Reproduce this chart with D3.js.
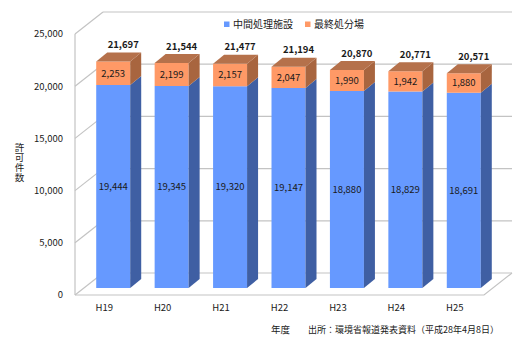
<!DOCTYPE html>
<html>
<head>
<meta charset="utf-8">
<script src="https://cdn.jsdelivr.net/npm/d3@7"></script>
<style>
  html, body { margin: 0; padding: 0; background: #fff; }
  svg { display: block; }
  text { font-family: "Noto Sans CJK JP", "Liberation Sans", sans-serif; fill: #1a1a1a; }
</style>
</head>
<body>
<svg id="chart" width="532" height="347"></svg>
<script>
// Permits by fiscal year (H19–H25)
const categories = ["H19", "H20", "H21", "H22", "H23", "H24", "H25"];
const intermediate = [19444, 19345, 19320, 19147, 18880, 18829, 18691]; // 中間処理施設
const landfill = [2253, 2199, 2157, 2047, 1990, 1942, 1880];            // 最終処分場
const totals = [21697, 21544, 21477, 21194, 20870, 20771, 20571];
const yTicks = [0, 5000, 10000, 15000, 20000, 25000];
const seriesNames = ["中間処理施設", "最終処分場"];

const svg = d3.select("#chart");
const fmt = d3.format(",");

// Plot box (front plane) and oblique depth of the 3D box
const left = 75, right = 484;
const depth = { dx: 28, dy: -22 };
const barDepth = { dx: 11, dy: -9 };
const barOffset = { dx: 9, dy: -7 };

const y = d3.scaleLinear().domain([0, 25000]).range([295, 34]);
const x = d3.scaleBand().domain(categories).range([left, right]).padding(0);
const barW = 34;

const colors = {
  blue: "#6699FF", blueSide: "#3F5FA3",
  orange: "#FF9966", orangeSide: "#A8653F", orangeTop: "#B5714B",
  grid: "#C3C3C3"
};

const grid = svg.append("g").attr("stroke", colors.grid).attr("stroke-width", 1.2).attr("fill", "none");

// Back wall gridlines and left wall diagonals
yTicks.forEach(t => {
  const yy = y(t);
  grid.append("line")
    .attr("x1", left + depth.dx).attr("y1", yy + depth.dy)
    .attr("x2", right + depth.dx).attr("y2", yy + depth.dy);
  grid.append("line")
    .attr("x1", left).attr("y1", yy)
    .attr("x2", left + depth.dx).attr("y2", yy + depth.dy);
});
// Front vertical axis line
grid.append("line").attr("x1", left).attr("y1", y(0)).attr("x2", left).attr("y2", y(25000));
// Floor outline
grid.append("path")
  .attr("d", `M${left},${y(0)}L${right},${y(0)}L${right + depth.dx},${y(0) + depth.dy}`);

// Y tick labels
svg.append("g").selectAll("text").data(yTicks).join("text")
  .attr("x", 63).attr("y", d => y(d)).attr("dy", "0.35em")
  .attr("text-anchor", "end").attr("font-size", 9.5)
  .text(d => fmt(d));

// Y axis title, written vertically
svg.append("text")
  .attr("x", 19.5).attr("y", 143)
  .style("writing-mode", "vertical-rl")
  .attr("font-size", 9.5)
  .attr("letter-spacing", 0.5)
  .text("許可件数");

// Bars
function face(pts) { return "M" + pts.map(p => p.join(",")).join("L") + "Z"; }
const bars = svg.append("g");
categories.forEach((c, i) => {
  const x0 = x(c) + (x.bandwidth() - barW) / 2 + barOffset.dx;
  const x1 = x0 + barW;
  const yb = y(0) + barOffset.dy;
  const ym = y(intermediate[i]) + barOffset.dy;
  const yt = y(intermediate[i] + landfill[i]) + barOffset.dy;
  const dx = barDepth.dx, dy = barDepth.dy;
  const g = bars.append("g");
  // intermediate segment
  g.append("path").attr("d", face([[x0, ym], [x1, ym], [x1, yb], [x0, yb]])).attr("fill", colors.blue);
  g.append("path").attr("d", face([[x1, ym], [x1 + dx, ym + dy], [x1 + dx, yb + dy], [x1, yb]])).attr("fill", colors.blueSide);
  // landfill segment
  g.append("path").attr("d", face([[x0, yt], [x1, yt], [x1, ym], [x0, ym]])).attr("fill", colors.orange);
  g.append("path").attr("d", face([[x1, yt], [x1 + dx, yt + dy], [x1 + dx, ym + dy], [x1, ym]])).attr("fill", colors.orangeSide);
  g.append("path").attr("d", face([[x0, yt], [x0 + dx, yt + dy], [x1 + dx, yt + dy], [x1, yt]])).attr("fill", colors.orangeTop);

  const cx = (x0 + x1) / 2;
  g.append("text").attr("x", cx).attr("y", (ym + yb) / 2).attr("dy", "0.35em")
    .attr("text-anchor", "middle").attr("font-size", 9.5).text(fmt(intermediate[i]));
  g.append("text").attr("x", cx).attr("y", (yt + ym) / 2).attr("dy", "0.35em")
    .attr("text-anchor", "middle").attr("font-size", 9.5).text(fmt(landfill[i]));
  g.append("text").attr("x", cx + 10).attr("y", yt - 13.5)
    .attr("text-anchor", "middle").attr("font-size", 9.5).attr("font-weight", "bold")
    .text(fmt(totals[i]));
});

// Category labels
svg.append("g").selectAll("text").data(categories).join("text")
  .attr("x", d => x(d) + x.bandwidth() / 2).attr("y", 308).attr("dy", "0.35em")
  .attr("text-anchor", "middle").attr("font-size", 9.5)
  .text(d => d);

// Legend
const legend = svg.append("g");
const legendItems = [
  { name: seriesNames[0], color: colors.blue, x: 224 },
  { name: seriesNames[1], color: colors.orange, x: 305 }
];
legendItems.forEach(it => {
  legend.append("rect").attr("x", it.x).attr("y", 21.5).attr("width", 5.5).attr("height", 5.5).attr("fill", it.color);
  legend.append("text").attr("x", it.x + 9).attr("y", 24.5).attr("dy", "0.35em")
    .attr("font-size", 10).text(it.name);
});

// Footer: axis name and source
svg.append("text").attr("x", 271).attr("y", 330).attr("dy", "0.35em").attr("font-size", 9.5).text("年度");
svg.append("text").attr("x", 308).attr("y", 330).attr("dy", "0.35em").attr("font-size", 9)
  .text("出所：環境省報道発表資料（平成28年4月8日）");
</script>
</body>
</html>
